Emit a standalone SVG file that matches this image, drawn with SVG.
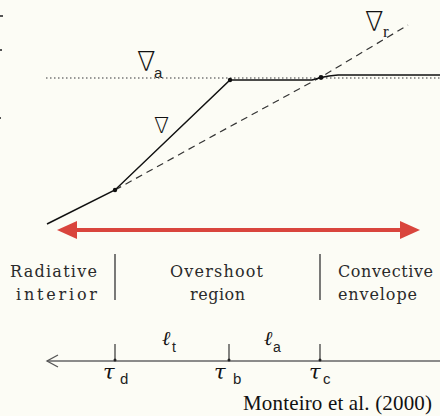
<svg xmlns="http://www.w3.org/2000/svg" width="440" height="416" viewBox="0 0 440 416">
<style>
.lab{font-family:"DejaVu Serif","Liberation Serif",serif;font-size:16px;fill:#2a2a2a}
.nab{font-family:"DejaVu Sans",sans-serif;font-weight:200;fill:#111}
.sub{font-family:"Liberation Sans",Arial,sans-serif;fill:#222}
.tau{font-family:"DejaVu Serif","Liberation Serif",serif;font-style:italic;fill:#111}
.div{stroke:#333;stroke-width:1.3}
.tick{stroke:#333;stroke-width:1.2}
</style>
<defs>
<marker id="redhead" viewBox="0 0 20 18" refX="0" refY="9" markerWidth="20" markerHeight="18" markerUnits="userSpaceOnUse" orient="auto-start-reverse">
<path d="M0,0 L20,9 L0,18 Z" fill="#d9453d"/>
</marker>
</defs>
<rect width="440" height="416" fill="#fcfcf5"/>
<g id="edge-marks" fill="#555">
<rect x="0" y="15" width="3" height="2"/>
<rect x="0" y="49" width="2" height="2"/>
<rect x="0" y="117" width="1" height="2"/>
</g>
<g id="connectors">
<line id="grad-ad" x1="46" y1="78" x2="440" y2="78" stroke="#777" stroke-width="1.6" stroke-dasharray="1.5 2.5"/>
<polyline id="grad-rad" points="115,190 220,132 321,77 408,25" fill="none" stroke="#333" stroke-width="1.2" stroke-dasharray="7 5"/>
<polyline id="grad" points="47,224 115,190 230,80 312,80 321,77.5 329,76 338,75 440,75" fill="none" stroke="#111" stroke-width="1.5"/>
<circle cx="115" cy="190" r="2.2" fill="#111"/>
<circle cx="230" cy="80" r="2.2" fill="#111"/>
<circle cx="321" cy="77.5" r="2.4" fill="#111"/>
<line id="red-arrow" x1="77" y1="230" x2="400" y2="230" stroke="#d9453d" stroke-width="4" marker-start="url(#redhead)" marker-end="url(#redhead)"/>
<line id="tau-axis" x1="47" y1="361" x2="440" y2="361" stroke="#666" stroke-width="1.5"/>
<polyline points="58,355 47,361 58,367" fill="none" stroke="#555" stroke-width="1.3"/>
</g>
<g id="grad-labels">
<text class="nab" x="137" y="71" font-size="27">∇</text>
<text class="sub" x="154" y="78" font-size="15">a</text>
<text class="nab" x="154" y="133" font-size="22">∇</text>
<text class="nab" x="365" y="31" font-size="27">∇</text>
<text x="383" y="37" font-family="Liberation Serif,serif" font-size="17" fill="#222">r</text>
</g>
<g id="region-radiative">
<text class="lab" x="10" y="277" textLength="87" lengthAdjust="spacing">Radiative</text>
<text class="lab" x="16" y="300" textLength="81" lengthAdjust="spacing">interior</text>
</g>
<line class="div" x1="115" y1="254" x2="115" y2="300"/>
<g id="region-overshoot">
<text class="lab" x="170" y="277" textLength="93" lengthAdjust="spacing">Overshoot</text>
<text class="lab" x="190" y="300" textLength="55" lengthAdjust="spacing">region</text>
</g>
<line class="div" x1="320" y1="254" x2="320" y2="300"/>
<g id="region-convective">
<text class="lab" x="338" y="277" textLength="95" lengthAdjust="spacing">Convective</text>
<text class="lab" x="338" y="300" textLength="79" lengthAdjust="spacing">envelope</text>
</g>
<g id="tau-d">
<line class="tick" x1="115" y1="344" x2="115" y2="361"/>
<circle cx="115" cy="360" r="1.5" fill="#222"/>
<text class="tau" x="103" y="379" font-size="21">τ</text>
<text class="sub" x="120" y="384" font-size="15">d</text>
</g>
<g id="tau-b">
<line class="tick" x1="229" y1="344" x2="229" y2="361"/>
<circle cx="229" cy="360" r="1.5" fill="#222"/>
<text class="tau" x="214" y="379" font-size="21">τ</text>
<text class="sub" x="233" y="384" font-size="15">b</text>
</g>
<g id="tau-c">
<line class="tick" x1="320" y1="344" x2="320" y2="361"/>
<circle cx="320" cy="360" r="1.5" fill="#222"/>
<text class="tau" x="309" y="379" font-size="21">τ</text>
<text class="sub" x="323" y="384" font-size="15">c</text>
</g>
<g id="lengths">
<text class="tau" x="162" y="345" font-size="20">ℓ</text>
<text class="sub" x="172" y="352" font-size="14">t</text>
<text class="tau" x="264" y="345" font-size="20">ℓ</text>
<text class="sub" x="273" y="352" font-size="14">a</text>
</g>
<text id="citation" x="243" y="410" font-family="Liberation Serif,'Times New Roman',serif" font-size="21" fill="#111" textLength="189">Monteiro et al. (2000)</text>
</svg>
